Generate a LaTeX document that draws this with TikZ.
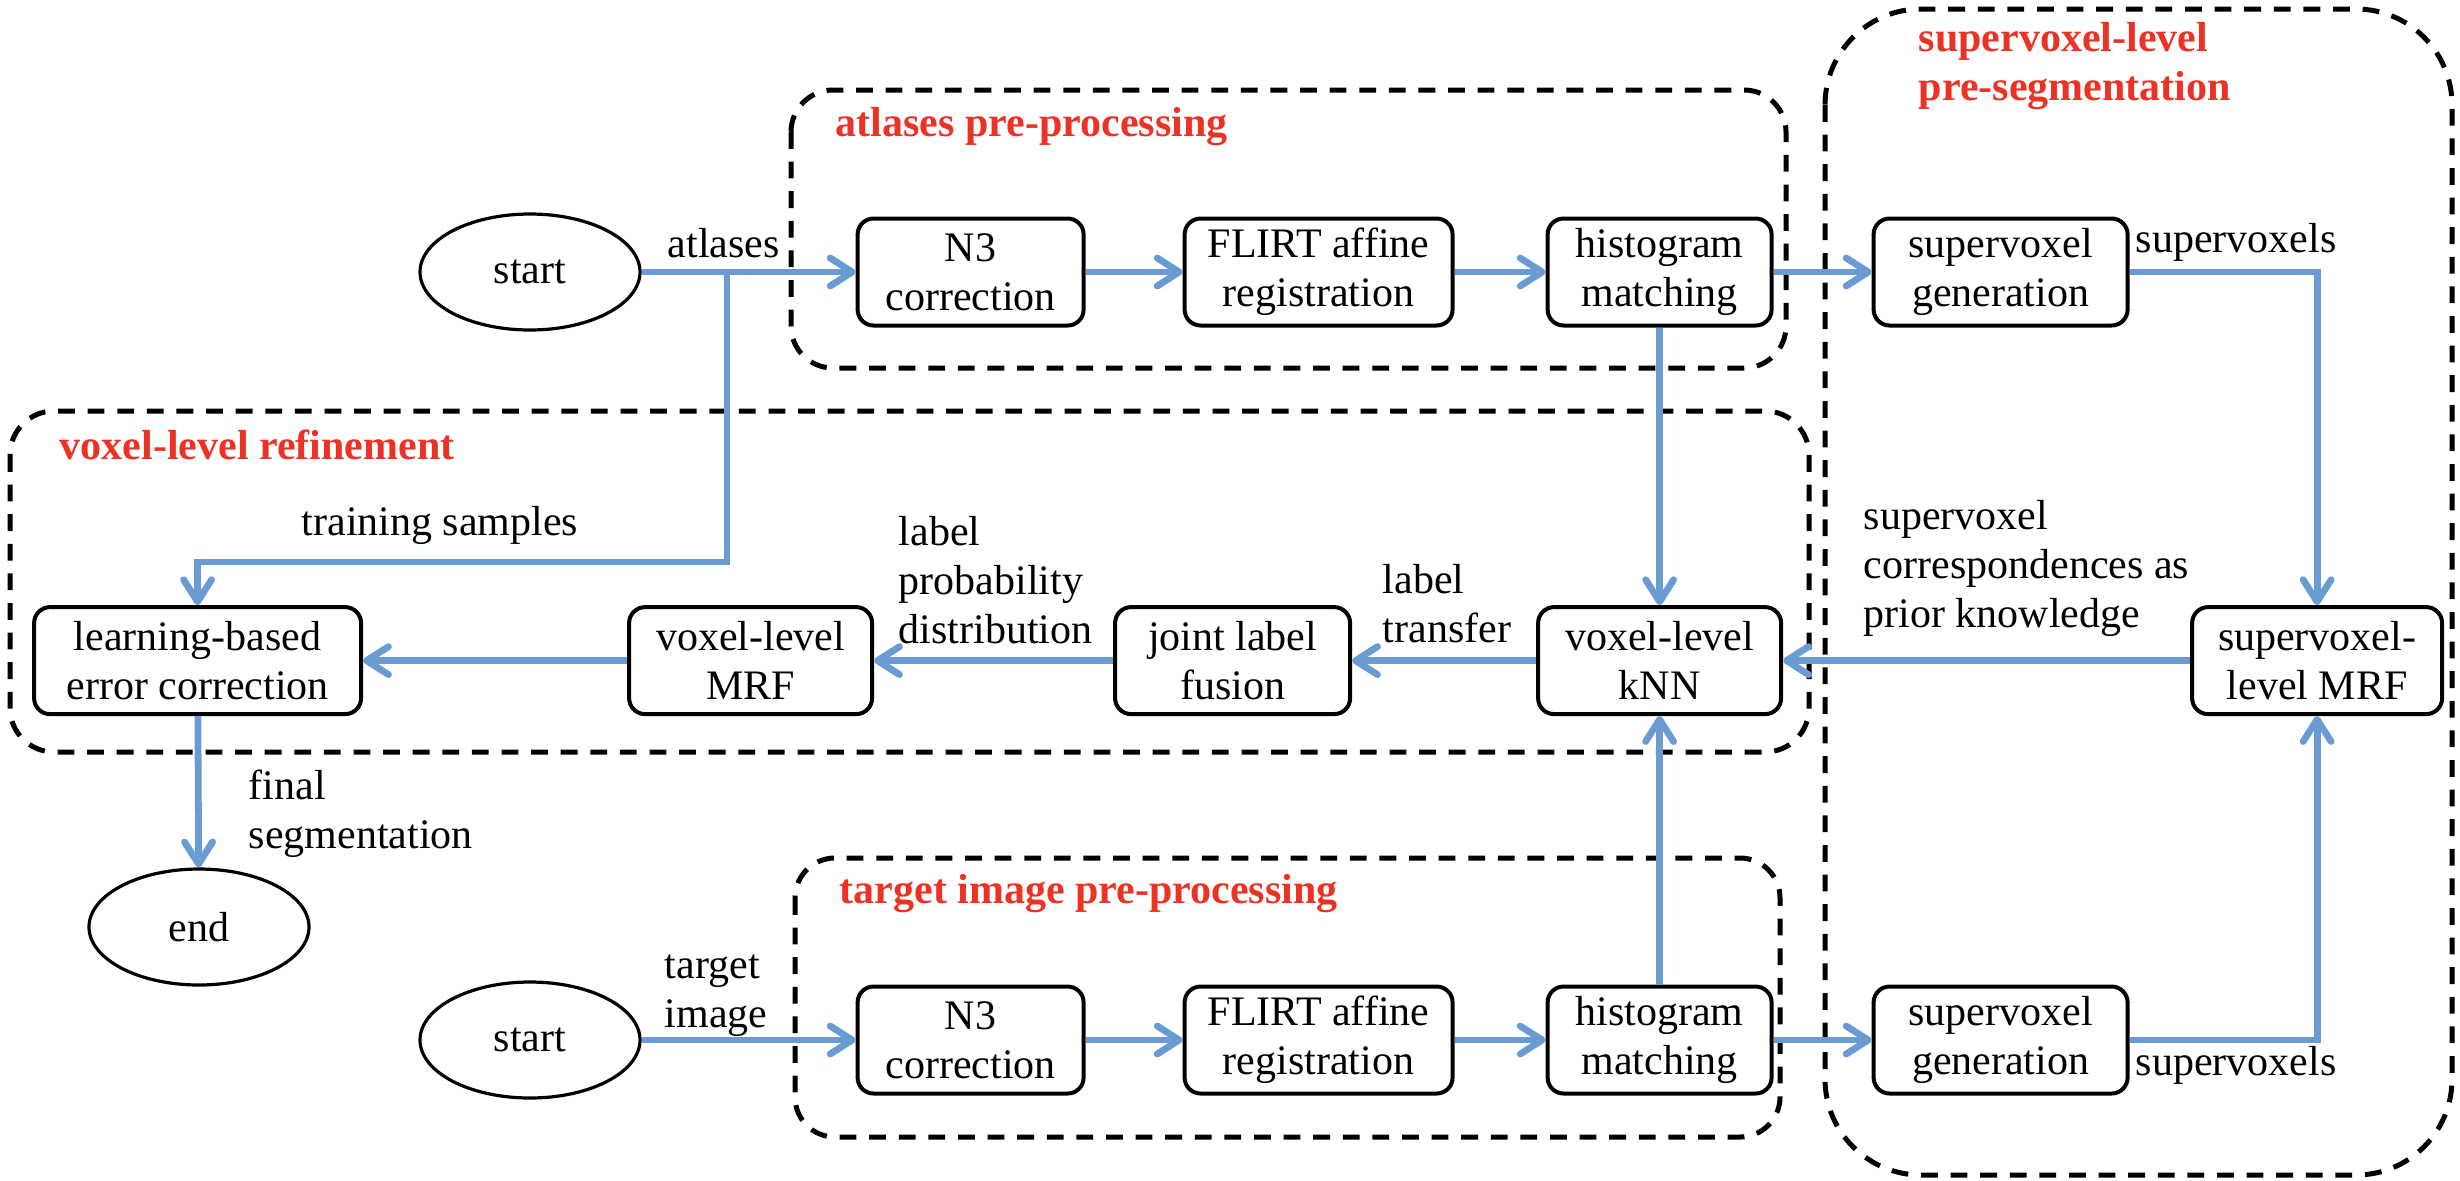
\documentclass[tikz,border=0pt]{standalone}
\usepackage{fontspec}
\setmainfont{Liberation Serif}
\usetikzlibrary{arrows.meta,positioning,shapes.geometric}
\definecolor{flowBlue}{RGB}{106,155,210}
\definecolor{titleRed}{RGB}{236,50,36}
\tikzset{
  every node/.style={font=\fontsize{10.5}{12.25}\selectfont},
  procbox/.style={rounded corners=4pt, draw=black, line width=1pt, fill=white, align=center,
                  minimum height=26.75pt, inner sep=2pt},
  terminal/.style={ellipse, draw=black, line width=0.8pt, fill=white,
                   minimum width=55pt, minimum height=29pt, inner sep=0pt},
  group/.style={draw=black, dash pattern=on 4.2pt off 3.2pt, line width=1.25pt},
  flow/.style={-{Straight Barb[length=5.5pt,width=7pt,round]}, line width=1.7pt, draw=flowBlue},
  note/.style={align=left, inner sep=0pt, anchor=base west},
  grouptitle/.style={note, text=titleRed, font=\fontsize{10.5}{12.25}\selectfont\bfseries}
}
\begin{document}
\begin{tikzpicture}[x=0.25pt, y=-0.25pt]
\useasboundingbox (0,0) rectangle (2460,1180);
% dashed groups
\draw[group, rounded corners=10.5pt] (791,90) rectangle (1786,368);
\draw[group, rounded corners=11pt] (10,411) rectangle (1809,752);
\draw[group, rounded corners=10pt] (795,858) rectangle (1780,1137);
\draw[group, rounded corners=24pt] (1825,9) rectangle (2452,1175);
\node[grouptitle] (tAtlas) at (835,136) {atlases pre-processing};
\node[grouptitle] (tRefine) at (59,459) {voxel-level refinement};
\node[grouptitle] (tTarget) at (839,903) {target image pre-processing};
\node[grouptitle] (tSuper) at (1918,100) {supervoxel-level\\pre-segmentation};

% atlas row
\node[terminal] (startA) at (530,272) {start};
\node[procbox, right=53.5pt of startA, minimum width=56.5pt] (n3A) {N3\\correction};
\node[procbox, right=24.25pt of n3A, minimum width=67pt] (flirtA) {FLIRT affine\\registration};
\node[procbox, right=22.75pt of flirtA, minimum width=56pt] (histA) {histogram\\matching};
\node[procbox, right=24.5pt of histA, minimum width=63.5pt] (genA) {supervoxel\\generation};

% refinement row
\node[procbox, below=69.4pt of histA, minimum width=60.75pt] (knn) {voxel-level\\kNN};
\node[procbox, left=46pt of knn, minimum width=58.75pt] (joint) {joint label\\fusion};
\node[procbox, left=59.75pt of joint, minimum width=60.75pt] (vmrf) {voxel-level\\MRF};
\node[procbox, left=66pt of vmrf, minimum width=81.75pt] (learn) {learning-based\\error correction};
\node[procbox, right=101.75pt of knn, minimum width=62.5pt] (smrf) {supervoxel-\\level MRF};
\node[terminal] (endN) at (199,927) {end};

% target row
\node[terminal] (startB) at (530,1040) {start};
\node[procbox, right=53.5pt of startB, minimum width=56.5pt] (n3B) {N3\\correction};
\node[procbox, right=24.25pt of n3B, minimum width=67pt] (flirtB) {FLIRT affine\\registration};
\node[procbox, right=22.75pt of flirtB, minimum width=56pt] (histB) {histogram\\matching};
\node[procbox, right=24.5pt of histB, minimum width=63.5pt] (genB) {supervoxel\\generation};

% labels
\node[note] (lAtlas) at (667,257) {atlases};
\node[note] (lTrain) at (301,535) {training samples};
\node[note] (lProb) at (898,643) {label\\probability\\distribution};
\node[note] (lTrans) at (1382,642) {label\\transfer};
\node[note] (lPrior) at (1863,627) {supervoxel\\correspondences as\\prior knowledge};
\node[note] (lSvA) at (2135,252) {supervoxels};
\node[note] (lSvB) at (2135,1075) {supervoxels};
\node[note] (lFinal) at (248,848) {final\\segmentation};
\node[note] (lTarget) at (664,1027) {target\\image};

% connectors
\coordinate (split) at (727,272);
\coordinate (bend) at (727,562);
\draw[flow] (startA.east) -- (n3A.west);
\draw[flow] (n3A) -- (flirtA);
\draw[flow] (flirtA) -- (histA);
\draw[flow] (histA) -- (genA);
\draw[flow] (split) -- (bend) -| (learn.north);
\draw[flow] (genA.east) -| (smrf.north);
\draw[flow] (histA) -- (knn);
\draw[flow] (smrf) -- (knn);
\draw[flow] (knn) -- (joint);
\draw[flow] (joint) -- (vmrf);
\draw[flow] (vmrf) -- (learn);
\draw[flow] (learn) -- (endN);
\draw[flow] (startB.east) -- (n3B.west);
\draw[flow] (n3B) -- (flirtB);
\draw[flow] (flirtB) -- (histB);
\draw[flow] (histB) -- (genB);
\draw[flow] (histB) -- (knn);
\draw[flow] (genB.east) -| (smrf.south);
\end{tikzpicture}
\end{document}
